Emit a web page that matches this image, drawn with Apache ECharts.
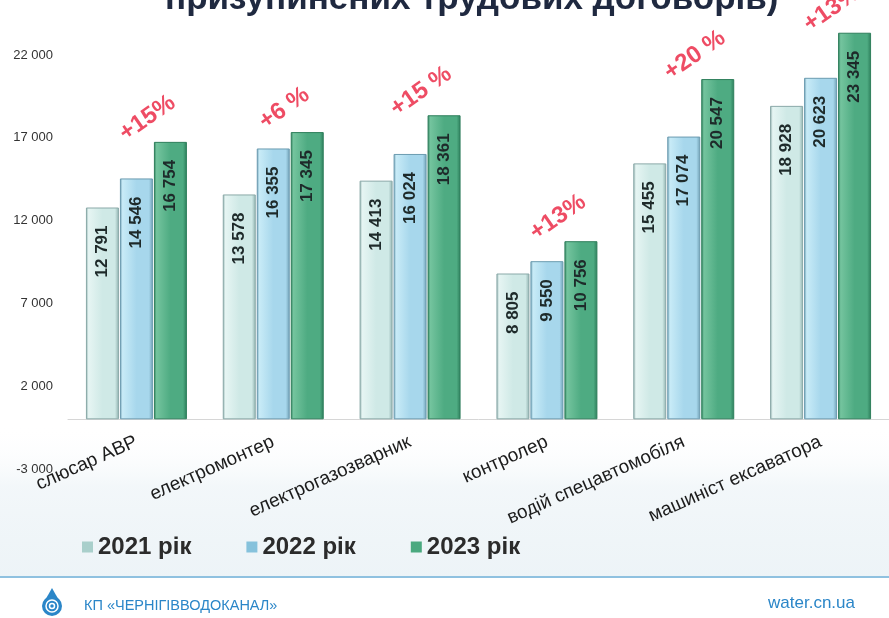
<!DOCTYPE html>
<html>
<head>
<meta charset="utf-8">
<script src="https://cdn.jsdelivr.net/npm/echarts@6/dist/echarts.min.js"></script>
<style>
html,body{margin:0;padding:0;background:#fff;}
#c{width:889px;height:618px;}
</style>
</head>
<body>
<div id="c"></div>
<script>
const categories = ['слюсар АВР','електромонтер','електрогазозварник','контролер','водій спецавтомобіля','машиніст ексаватора'];
const val2021 = [12791, 13578, 14413, 8805, 15455, 18928];
const val2022 = [14546, 16355, 16024, 9550, 17074, 20623];
const val2023 = [16754, 17345, 18361, 10756, 20547, 23345];
const growth = ['+15%', '+6 %', '+15 %', '+13%', '+20 %', '+13%'];
const seriesNames = ['2021 рік', '2022 рік', '2023 рік'];
const yTicks = [-3000, 2000, 7000, 12000, 17000, 22000];

function fmt(v){ return String(v).replace(/\B(?=(\d{3})+(?!\d))/g, ' '); }
function grad(light, base, dark){
  return {type:'linear', x:0, y:0, x2:1, y2:0, colorStops:[
    {offset:0, color:dark},{offset:0.08, color:light},{offset:0.5, color:base},{offset:0.88, color:base},{offset:1, color:dark}]};
}
const styles = [
  {color: grad('#e6f5f3','#cfe9e6','#8fb0ae'), border:'#8aa9a8', legend:'#a9cfcb'},
  {color: grad('#c8ebf7','#a7d7ec','#6f9fb3'), border:'#6b9bb0', legend:'#86c2dc'},
  {color: grad('#74c49e','#4eab82','#2c7d5a'), border:'#2f7f5c', legend:'#4aa97f'}
];
const vals = [val2021, val2022, val2023];

const chart = echarts.init(document.getElementById('c'), null, {renderer:'canvas'});
const series = vals.map((d,i)=>({
  name: seriesNames[i],
  type:'bar',
  barWidth: 33,
  barGap: '3%',
  clip:false,
  data: d,
  itemStyle:{color: styles[i].color, borderColor: styles[i].border, borderWidth:1},
  label:{
    show:true, position:'insideTop', rotate:90, align:'right', verticalAlign:'middle',
    distance: 18, formatter: p=>fmt(p.value),
    fontFamily:'Liberation Sans, Arial, sans-serif', fontWeight:'bold', fontSize:17, color:'#1e2a2a'
  }
}));
series.push({
  name:'growth', type:'scatter', data: val2023, symbolSize:0, silent:true, clip:false,
  label:{show:true, position:'top', distance:10, offset:[17,7], rotate:35,
    formatter: p=>growth[p.dataIndex],
    fontFamily:'Liberation Sans, Arial, sans-serif', fontWeight:'bold', fontSize:24, color:'#ea1f3d'}
});

chart.setOption({
  backgroundColor:'#fff',
  animation:false,
  title:{
    text:'призупинених трудових договорів)', left:160, top:-23,
    textStyle:{fontFamily:'Liberation Sans, Arial, sans-serif', fontWeight:'bold', fontSize:35, color:'#1f2940'}
  },
  legend:{
    data: seriesNames.map((n,i)=>({name:n, itemStyle:{color:styles[i].legend, borderWidth:0}})),
    left:77, top:530, itemWidth:11, itemHeight:11, itemGap:55, icon:'rect',
    textStyle:{fontFamily:'Liberation Sans, Arial, sans-serif', fontWeight:'bold', fontSize:24, color:'#2b2b2b'}
  },
  grid:{left:68, right:-21, top:55, bottom:149, containLabel:false},
  xAxis:{
    type:'category', data:categories,
    axisLine:{show:true, onZero:true, lineStyle:{color:'#d6d6d6', width:1}},
    axisTick:{show:false},
    axisLabel:{rotate:24, margin:-28, interval:0, fontFamily:'Liberation Sans, Arial, sans-serif', fontSize:19, color:'#1c1c1c'}
  },
  yAxis:{
    type:'value', min:-3000, max:22000, interval:5000,
    splitLine:{show:false}, axisLine:{show:false}, axisTick:{show:false},
    axisLabel:{formatter: v=>fmt(v), fontFamily:'Liberation Sans, Arial, sans-serif', fontSize:13, color:'#333', margin:15}
  },
  graphic:[
    {type:'rect', z:-10, shape:{x:0, y:425, width:889, height:152},
      style:{fill:{type:'linear', x:0,y:0,x2:0,y2:1, colorStops:[{offset:0,color:'rgba(255,255,255,0)'},{offset:0.4,color:'rgba(220,233,240,0.35)'},{offset:1,color:'rgba(225,236,242,0.6)'}]}}},
    {type:'rect', z:-9, shape:{x:0, y:576, width:889, height:2}, style:{fill:'#8fc1e0'}},
    {type:'polygon', shape:{points:[[52,588],[43.5,603],[60.5,603]]}, style:{fill:'#2b86c8'}},
    {type:'circle', shape:{cx:52, cy:606, r:10}, style:{fill:'#2b86c8'}},
    {type:'circle', shape:{cx:52, cy:606, r:6}, style:{fill:'none', stroke:'#fff', lineWidth:1.5}},
    {type:'circle', shape:{cx:52, cy:606, r:2.5}, style:{fill:'none', stroke:'#fff', lineWidth:1.5}},
    {type:'text', left:84, top:598, style:{text:'КП «ЧЕРНІГІВВОДОКАНАЛ»', font:'14.5px "Liberation Sans", Arial, sans-serif', fill:'#2b86c8'}},
    {type:'text', right:34, top:595, style:{text:'water.cn.ua', font:'17px "Liberation Sans", Arial, sans-serif', fill:'#2b86c8'}}
  ],
  series: series
});
</script>
</body>
</html>
